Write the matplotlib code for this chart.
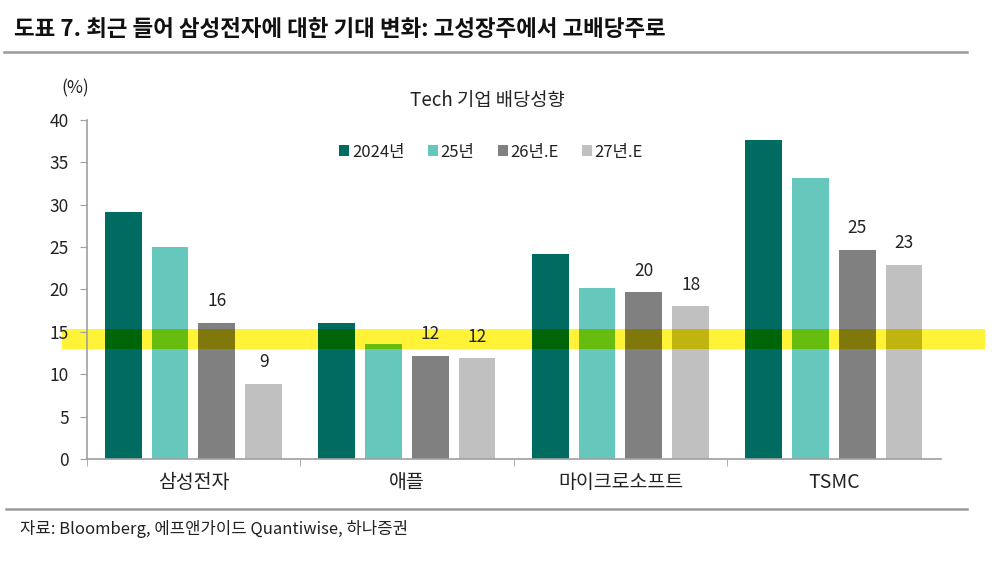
import numpy as np
import matplotlib
matplotlib.use("Agg")
import matplotlib.pyplot as plt
from matplotlib.patches import Rectangle
from matplotlib.lines import Line2D

plt.rcParams['font.family'] = ['Noto Sans CJK KR', 'DejaVu Sans']

# ==============================
# DATA
# ==============================

companies = ["삼성전자", "애플", "마이크로소프트", "TSMC"]
series_names = ["2024년", "25년", "26년.E", "27년.E"]
payout_2024 = [29.2, 16.0, 24.2, 37.6]
payout_2025 = [25.0, 13.6, 20.2, 33.2]
payout_2026e = [16.1, 12.2, 19.7, 24.7]
payout_2027e = [8.9, 11.9, 18.0, 22.9]
label_2026e = ["16", "12", "20", "25"]
label_2027e = ["9", "12", "18", "23"]
yticks = [0, 5, 10, 15, 20, 25, 30, 35, 40]

# highlight band (y range in %)
band_low, band_high = 12.95, 15.35

colors = ["#006b60", "#66c8bc", "#808080", "#c0c0c0"]
band_color = np.array([255, 240, 20]) / 255.0

# ==============================
# FIGURE
# ==============================

fig = plt.figure(figsize=(9.92, 5.63), dpi=100)
ax = fig.add_axes([0.0874, 0.1847, 0.8609, 0.6022])

series = [payout_2024, payout_2025, payout_2026e, payout_2027e]
x = np.arange(len(companies))
step = 0.219
width = 0.172
offsets = (np.arange(4) - 1.5) * step

# yellow band behind the bars, wider than the axes
band = Rectangle((-0.616, band_low), 4.323, band_high - band_low,
                 transform=ax.transData, facecolor=band_color, edgecolor="none",
                 alpha=0.85, zorder=1, clip_on=False)
ax.add_patch(band)
clip_rect = Rectangle((-1, band_low), 6, band_high - band_low,
                      transform=ax.transData, visible=False)
ax.add_patch(clip_rect)

handles = []
for i, vals in enumerate(series):
    bars = ax.bar(x + offsets[i], vals, width, color=colors[i], zorder=2,
                  label=series_names[i])
    handles.append(bars)
    # "multiply" look where the band crosses the bars
    mixed = np.array(matplotlib.colors.to_rgb(colors[i])) * band_color
    over = ax.bar(x + offsets[i], vals, width, color=mixed, zorder=3)
    for p in over:
        p.set_clip_path(clip_rect)

for i, (vals, labels) in enumerate([(payout_2026e, label_2026e), (payout_2027e, label_2027e)]):
    for j, v in enumerate(vals):
        ax.annotate(labels[j], (x[j] + offsets[i + 2], v), xytext=(0, 9),
                    textcoords="offset points", ha="center", va="bottom",
                    fontsize=12.5, color="#222222", zorder=4)

ax.set_xlim(-0.5, len(companies) - 0.5)
ax.set_ylim(0, 40)
ax.set_yticks(yticks)
ax.set_yticklabels([str(t) for t in yticks], fontsize=12.5, color="#222222")
ax.set_xticks(x)
ax.set_xticklabels(companies, fontsize=14, color="#222222")
ax.set_xticks(np.arange(len(companies)) - 0.5, minor=True)
ax.tick_params(axis="x", which="major", length=0, pad=9)
ax.tick_params(axis="x", which="minor", length=5, color="#a0a0a0", direction="out")
ax.tick_params(axis="y", length=5, color="#a0a0a0", pad=8)

for side in ["top", "right"]:
    ax.spines[side].set_visible(False)
for side in ["left", "bottom"]:
    ax.spines[side].set_color("#a0a0a0")
    ax.spines[side].set_linewidth(1.2)

leg = fig.legend(handles=handles, labels=series_names, loc="center",
                 bbox_to_anchor=(0.495, 0.73), ncol=4, frameon=False,
                 fontsize=12, handlelength=0.6, handleheight=0.6,
                 handletextpad=0.15, columnspacing=1.4)
for t in leg.get_texts():
    t.set_color("#222222")

# ==============================
# TEXTS AND FRAME LINES
# ==============================

fig.text(0.014, 0.947, "도표 7. 최근 들어 삼성전자에 대한 기대 변화: 고성장주에서 고배당주로",
         fontsize=16.2, fontweight="bold", va="center", ha="left", color="#111111")
fig.text(0.076, 0.843, "(%)", fontsize=12.5, ha="center", va="center", color="#222222")
fig.text(0.491, 0.822, "Tech 기업 배당성향", fontsize=13.5, ha="center", va="center",
         color="#222222")
fig.text(0.02, 0.06, "자료: Bloomberg, 에프앤가이드 Quantiwise, 하나증권",
         fontsize=12, ha="left", va="center", color="#222222")

fig.add_artist(Line2D([0.004, 0.975], [1 - 52 / 563] * 2, transform=fig.transFigure,
                      color="#9a9a9a", linewidth=1.8))
fig.add_artist(Line2D([0.006, 0.975], [1 - 509 / 563] * 2, transform=fig.transFigure,
                      color="#9a9a9a", linewidth=1.8))

fig.savefig("out.png", dpi=100)
